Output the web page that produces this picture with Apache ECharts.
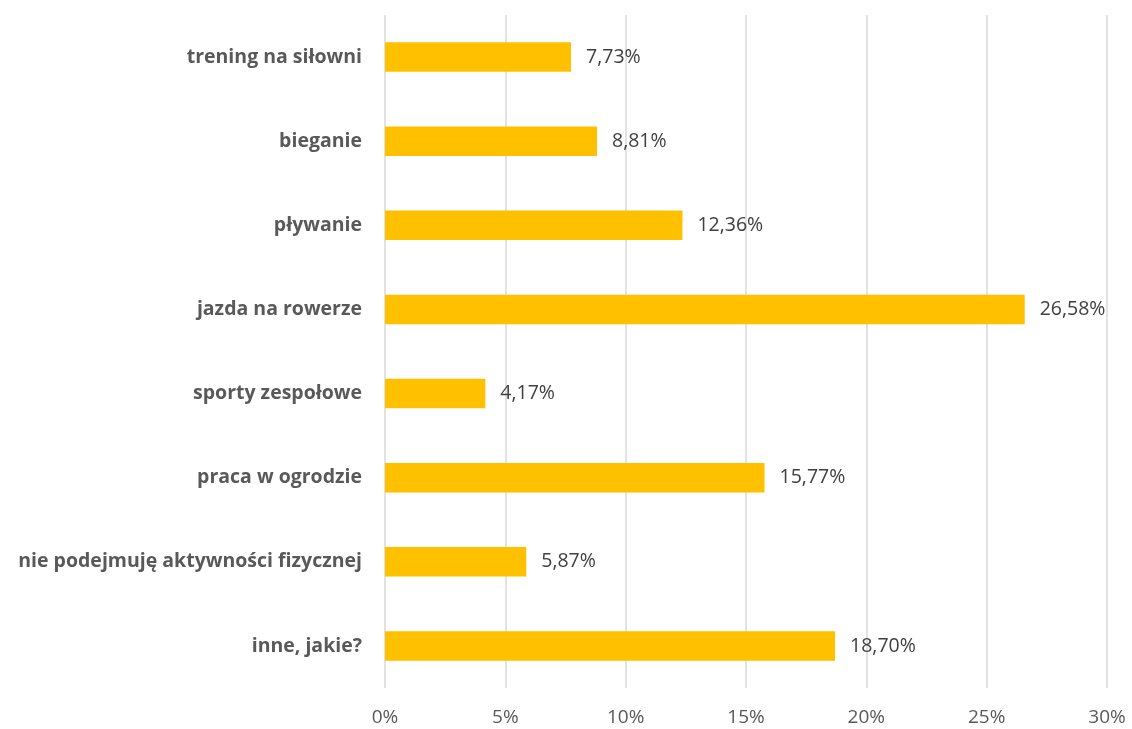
<!DOCTYPE html>
<html>
<head>
<meta charset="utf-8">
<script src="https://cdn.jsdelivr.net/npm/echarts@6/dist/echarts.min.js"></script>
<style>
  html, body { margin: 0; padding: 0; background: #fff; }
  #chart { width: 1132px; height: 729px; }
</style>
</head>
<body>
<div id="chart"></div>
<script>
// categories top to bottom as shown
var categories = [
  'trening na siłowni',
  'bieganie',
  'pływanie',
  'jazda na rowerze',
  'sporty zespołowe',
  'praca w ogrodzie',
  'nie podejmuję aktywności fizycznej',
  'inne, jakie?'
]
var values = [7.73, 8.81, 12.36, 26.58, 4.17, 15.77, 5.87, 18.70]

var chart = echarts.init(document.getElementById('chart'))

chart.setOption({
  animation: false,
  textStyle: { fontFamily: 'Open Sans' },
  grid: {
    left: 385,
    right: 25,
    top: 15,
    bottom: 41
  },
  xAxis: {
    type: 'value',
    min: 0,
    max: 30,
    interval: 5,
    axisLine: { show: false },
    axisTick: { show: false },
    axisLabel: {
      formatter: '{value}%',
      color: '#595959',
      fontSize: 19,
      margin: 20
    },
    splitLine: {
      show: true,
      lineStyle: { color: '#d9d9d9', width: 1.5 }
    }
  },
  yAxis: {
    type: 'category',
    inverse: true,
    data: categories,
    axisLine: { show: false },
    axisTick: { show: false },
    axisLabel: {
      color: '#595959',
      fontSize: 19.5,
      fontWeight: 'bold',
      margin: 23
    }
  },
  series: [
    {
      type: 'bar',
      data: values,
      barWidth: '35%',
      itemStyle: { color: '#ffc000' },
      label: {
        show: true,
        position: 'right',
        distance: 15,
        color: '#404040',
        fontSize: 19.5,
        formatter: function(p) {
          return p.value.toFixed(2).replace('.', ',') + '%'
        }
      }
    }
  ]
})
</script>
</body>
</html>
